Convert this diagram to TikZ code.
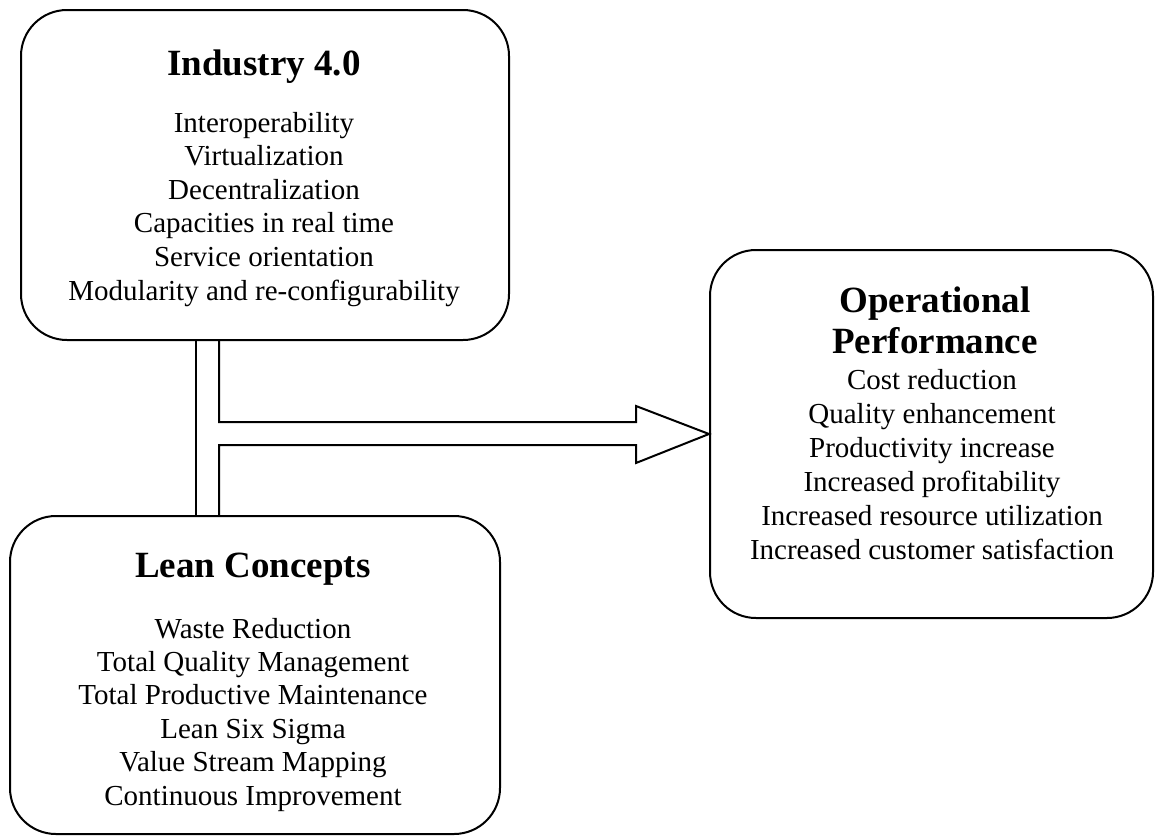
\documentclass[tikz,border=0pt]{standalone}
\usepackage{fontspec}
\setmainfont{Liberation Serif}
\begin{document}
\begin{tikzpicture}[x=1pt,y=-1pt,
  panel/.style={draw=black,line width=2pt,rounded corners=46pt,inner sep=0pt,anchor=north west},
  head/.style={font=\fontsize{37}{41}\selectfont\bfseries,anchor=base,inner sep=0pt,align=center},
  item/.style={font=\fontsize{29}{33.6}\selectfont,anchor=base,inner sep=0pt,align=center},
  arrowline/.style={draw=black,line width=2pt,line join=miter}]
\useasboundingbox (0,0) rectangle (1155,835);

% Panels
\node[panel,minimum width=488pt,minimum height=330pt] (ind) at (20,9) {};
\node[panel,minimum width=490pt,minimum height=318pt] (lean) at (9,515) {};
\node[panel,minimum width=443pt,minimum height=368pt] (ops) at (709,249) {};

% Industry 4.0 (multi-line nodes sit on the baseline of their last line)
\node[head] (indT) at (264,75) {Industry 4.0};
\node[item] (indL) at (264,300) {Interoperability\\Virtualization\\Decentralization\\Capacities in real time\\Service orientation\\Modularity and re-configurability};

% Lean Concepts
\node[head] (leanT) at (253,577) {Lean Concepts};
\node[item,font=\fontsize{29}{33.4}\selectfont] (leanL) at (253,805) {Waste Reduction\\Total Quality Management\\Total Productive Maintenance\\Lean Six Sigma\\Value Stream Mapping\\Continuous Improvement};

% Operational Performance
\node[head] (opsT) at (935,353) {Operational\\Performance};
\node[item,font=\fontsize{29}{34}\selectfont] (opsL) at (932,559) {Cost reduction\\Quality enhancement\\Productivity increase\\Increased profitability\\Increased resource utilization\\Increased customer satisfaction};

% Combined block arrow
\coordinate (tip) at (ops.west |- 0,434);
\draw[arrowline] (ind.south -| 196,0) -- (lean.north -| 196,0);
\draw[arrowline] (ind.south -| 219,0) -- (219,422) -- (636,422) -- (636,406)
  -- (tip) -- (636,463) -- (636,445) -- (219,445) -- (lean.north -| 219,0);
\end{tikzpicture}
\end{document}
